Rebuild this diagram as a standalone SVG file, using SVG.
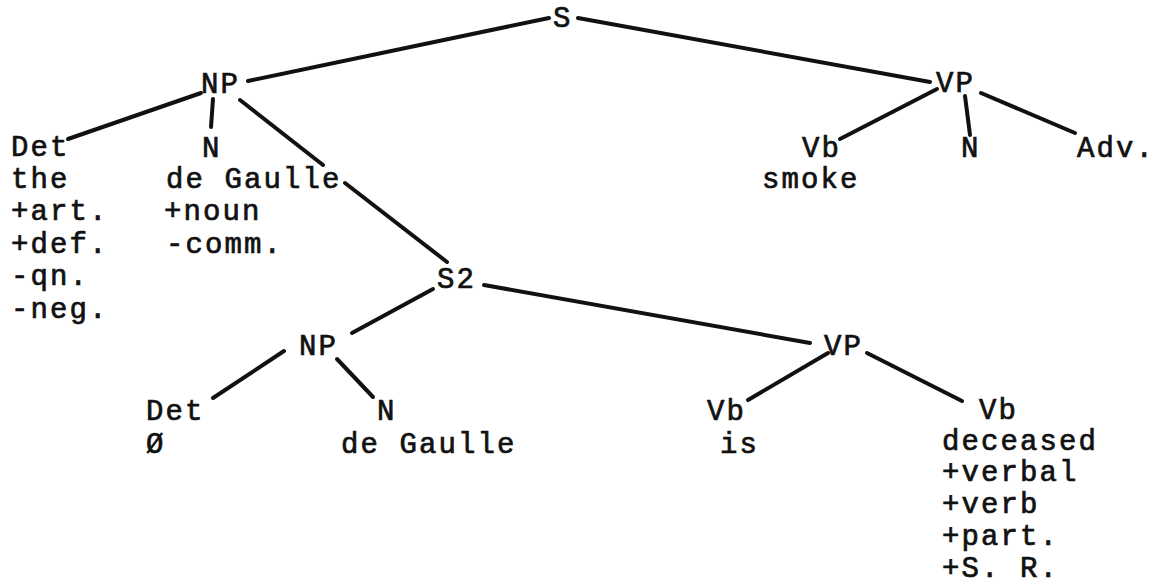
<svg xmlns="http://www.w3.org/2000/svg" width="1160" height="588" viewBox="0 0 1160 588">
<style>
  text { font-family: "Liberation Mono", "DejaVu Sans Mono", monospace; font-size: 29px; letter-spacing: 2.1px; fill: #111; stroke: #111; stroke-width: 0.7px; }
  .edge { stroke: #111; stroke-width: 4; stroke-linecap: round; fill: none; }
</style>
<rect x="0" y="0" width="1160" height="588" fill="#fff"/>
<g id="connectors">
  <line class="edge" x1="549" y1="18" x2="248" y2="81"/>
  <line class="edge" x1="578" y1="18" x2="930" y2="82"/>
  <line class="edge" x1="201" y1="93" x2="68" y2="139"/>
  <line class="edge" x1="213" y1="99" x2="211" y2="127"/>
  <line class="edge" x1="240" y1="100" x2="323" y2="165"/>
  <line class="edge" x1="345" y1="183" x2="447" y2="262"/>
  <line class="edge" x1="937" y1="89" x2="840" y2="139"/>
  <line class="edge" x1="965" y1="96" x2="970" y2="135"/>
  <line class="edge" x1="981" y1="93" x2="1075" y2="133"/>
  <line class="edge" x1="433" y1="289" x2="352" y2="333"/>
  <line class="edge" x1="484" y1="285" x2="810" y2="343"/>
  <line class="edge" x1="284" y1="351" x2="213" y2="398"/>
  <line class="edge" x1="337" y1="359" x2="373" y2="397"/>
  <line class="edge" x1="828" y1="353" x2="748" y2="400"/>
  <line class="edge" x1="867" y1="353" x2="962" y2="401"/>
</g>
<g id="node-S"><text x="553" y="27">S</text></g>
<g id="node-NP1"><text x="201" y="93">NP</text></g>
<g id="node-VP1"><text x="936" y="92">VP</text></g>
<g id="node-Det1">
  <text x="11" y="156">Det</text>
  <text x="11" y="188">the</text>
  <text x="11" y="220">+art.</text>
  <text x="11" y="253">+def.</text>
  <text x="11" y="285">-qn.</text>
  <text x="11" y="318">-neg.</text>
</g>
<g id="node-N1">
  <text x="202" y="157">N</text>
  <text x="166" y="188">de Gaulle</text>
  <text x="164" y="220">+noun</text>
  <text x="166" y="253">-comm.</text>
</g>
<g id="node-Vb1">
  <text x="802" y="157">Vb</text>
  <text x="762" y="188">smoke</text>
</g>
<g id="node-N-VP1"><text x="961" y="157">N</text></g>
<g id="node-Adv"><text x="1077" y="157">Adv.</text></g>
<g id="node-S2"><text x="437" y="288">S2</text></g>
<g id="node-NP2"><text x="299" y="355">NP</text></g>
<g id="node-VP2"><text x="824" y="355">VP</text></g>
<g id="node-Det2">
  <text x="146" y="420">Det</text>
  <text x="146" y="453">Ø</text>
</g>
<g id="node-N2">
  <text x="377" y="420">N</text>
  <text x="341" y="453">de Gaulle</text>
</g>
<g id="node-Vb2">
  <text x="707" y="420">Vb</text>
  <text x="720" y="453">is</text>
</g>
<g id="node-Vb3">
  <text x="979" y="419">Vb</text>
  <text x="942" y="450">deceased</text>
  <text x="942" y="481">+verbal</text>
  <text x="942" y="513">+verb</text>
  <text x="942" y="545">+part.</text>
  <text x="942" y="577">+S. R.</text>
</g>
</svg>
